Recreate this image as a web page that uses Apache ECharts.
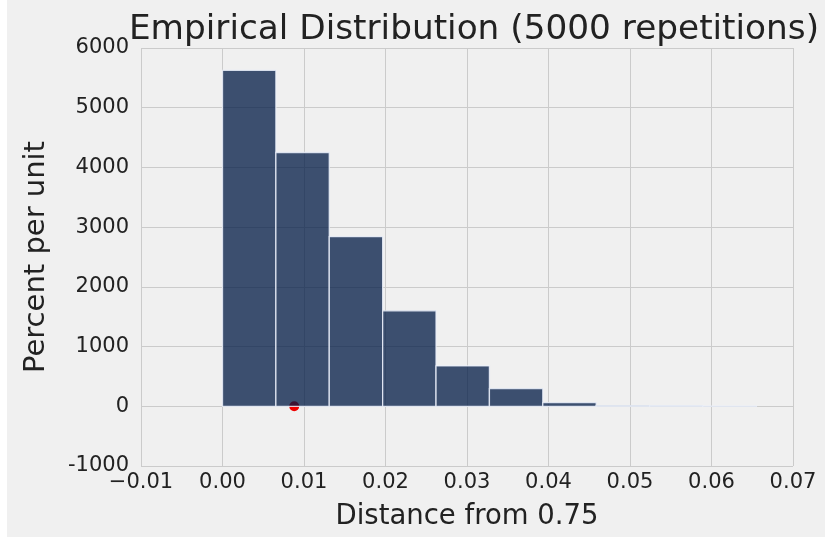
<!DOCTYPE html>
<html><head><meta charset="utf-8">
<script src="https://cdn.jsdelivr.net/npm/echarts@6/dist/echarts.min.js"></script>
<style>html,body{margin:0;padding:0;background:#fff;}#c{position:absolute;left:7px;top:0;width:818px;height:537px;}</style>
</head><body><div id="c"></div>
<script>
const binEdges = [0, 0.00655, 0.0131, 0.01965, 0.0262, 0.03275, 0.0393, 0.04585, 0.0524, 0.05895, 0.0655];
const percentPerUnit = [5626, 4250, 2841, 1599, 676, 297, 62, 12, 9, 3];
const observedDistance = [0.0088];
const observedHeight = [0];
const titleText = 'Empirical Distribution (5000 repetitions)';
const xName = 'Distance from 0.75';
const yName = 'Percent per unit';

const histData = percentPerUnit.map((h, i) => [binEdges[i], binEdges[i + 1], h]);
const pointData = observedDistance.map((x, i) => [x, observedHeight[i]]);
const FONT = 'DejaVu Sans';
const chart = echarts.init(document.getElementById('c'), null, {renderer: 'canvas'});
chart.setOption({
  backgroundColor: '#f0f0f0',
  animation: false,
  title: {
    text: titleText, left: 469 - 7, top: 8, textAlign: 'center',
    textStyle: {fontFamily: FONT, fontSize: 34.3, fontWeight: 'normal', color: '#222'}
  },
  grid: {left: 134, right: 32, top: 48, bottom: 71, containLabel: false},
  xAxis: {
    type: 'value', min: -0.01, max: 0.07, interval: 0.01,
    name: xName, nameLocation: 'middle', nameGap: 37,
    nameTextStyle: {fontFamily: FONT, fontSize: 27.5, color: '#222'},
    axisLine: {show: false}, axisTick: {show: false},
    axisLabel: {
      fontFamily: FONT, fontSize: 21, color: '#222', margin: 6,
      formatter: v => Math.abs(v) < 1e-9 ? '0.00' : (v < 0 ? '\u2212' + Math.abs(v).toFixed(2) : v.toFixed(2))
    },
    splitLine: {show: true, lineStyle: {color: '#cbcbcb', width: 1}}
  },
  yAxis: {
    type: 'value', min: -1000, max: 6000, interval: 1000,
    name: yName, nameLocation: 'middle', nameGap: 90, nameRotate: 90,
    nameTextStyle: {fontFamily: FONT, fontSize: 29, color: '#222'},
    axisLine: {show: false}, axisTick: {show: false},
    axisLabel: {fontFamily: FONT, fontSize: 21, color: '#222', margin: 12, formatter: v => String(v)},
    splitLine: {show: true, lineStyle: {color: '#cbcbcb', width: 1}}
  },
  series: [
    {
      type: 'scatter', data: pointData, symbolSize: 10, z: 1,
      itemStyle: {color: '#ee0000', opacity: 1}
    },
    {
      type: 'custom', z: 3, data: histData, clip: true,
      renderItem: function (params, api) {
        const p0 = api.coord([api.value(0), api.value(2)]);
        const p1 = api.coord([api.value(1), 0]);
        return {
          type: 'rect',
          shape: {x: p0[0], y: p0[1], width: p1[0] - p0[0], height: p1[1] - p0[1]},
          style: {fill: 'rgba(0,26,68,0.75)', stroke: 'rgba(235,240,250,0.85)', lineWidth: 1.3}
        };
      },
      encode: {x: [0, 1], y: 2}
    }
  ]
});
</script></body></html>
